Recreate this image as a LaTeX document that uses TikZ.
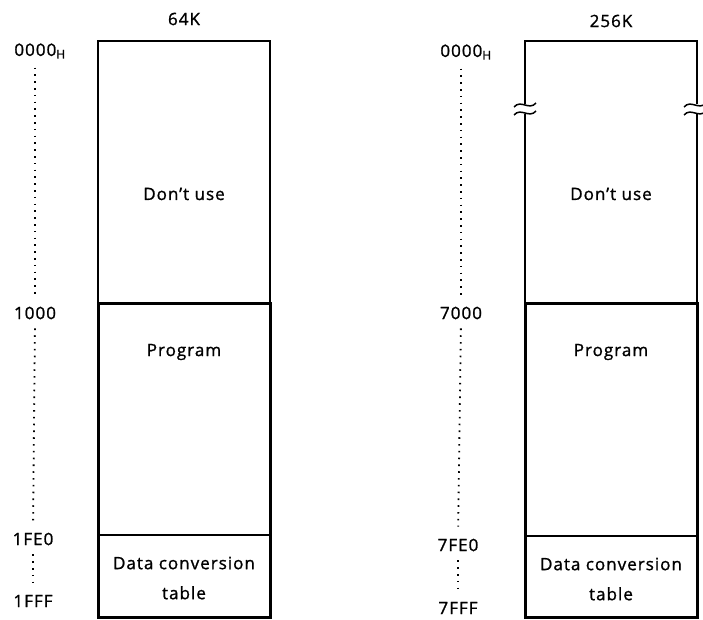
\documentclass[tikz,border=0pt]{standalone}
\usepackage{fontspec}
\setmainfont{Open Sans}[LetterSpace=6,FakeBold=1.2]
\usetikzlibrary{positioning}

\begin{document}
\begin{tikzpicture}[x=1pt,y=-1pt]
    \tikzstyle{addr} = [font=\fontsize{17}{19}\selectfont, inner sep=1pt]
    \tikzstyle{area} = [font=\fontsize{17}{30}\selectfont, align=center, inner sep=1pt]
    \tikzstyle{thinline} = [line width=1.5pt]
    \tikzstyle{thickline} = [line width=3pt]
    \tikzstyle{dots} = [line width=1.8pt, dash pattern=on 1.6pt off 5.2pt, shorten >=11pt, shorten <=8pt]
    \useasboundingbox (0,0) rectangle (703,619);

    % 64K map
    \node[addr] (t64) at (184,19) {64K};
    \node[addr] (a0) at (40,51) {0000\textsubscript{H}};
    \node[addr] (a1) at (35,313) {1000};
    \node[addr] (a2) at (33,539) {1FE0};
    \node[addr] (a3) at (33,601) {1FFF};

    \draw[dots] (a1.north |- a0.south) -- (a1.north);
    \draw[dots] (a1.south) -- (a2.north);
    \draw[dots] (a2.south) -- (a3.north);

    \draw[thinline] (98,303) -- (98,41) -- (270,41) -- (270,303);
    \draw[thickline] (98,303) rectangle (270,617);
    \draw[thinline] (98,535) -- (270,535);

    \node[area] (u64) at (184,194) {Don't use};
    \node[area] (p64) at (184,352) {Program};
    \node[area] (d64) at (184,578) {Data conversion\\table};

    % 256K map
    \node[addr] (t256) at (611,21) {256K};
    \node[addr] (b0) at (466,52) {0000\textsubscript{H}};
    \node[addr] (b1) at (461,313) {7000};
    \node[addr] (b2) at (458,545) {7FE0};
    \node[addr] (b3) at (458,608) {7FFF};

    \draw[dots] (b1.north |- b0.south) -- (b1.north);
    \draw[dots] (b1.south) -- (b2.north);
    \draw[dots] (b2.south) -- (b3.north);

    \draw[thinline] (525,104) -- (525,41) -- (697,41) -- (697,104);
    \draw[thinline] (525,114) -- (525,303);
    \draw[thinline] (697,114) -- (697,303);
    \draw[thickline] (525,303) rectangle (697,617);
    \draw[thinline] (525,536) -- (697,536);
    \foreach \x in {525,695}
      \foreach \y in {105,113}
        \draw[line width=1.5pt] (\x-11,\y+2) .. controls (\x-4,\y-6) and (\x+4,\y+6) .. (\x+11,\y-2);

    \node[area] (u256) at (611,194) {Don't use};
    \node[area] (p256) at (611,352) {Program};
    \node[area] (d256) at (611,579) {Data conversion\\table};

\end{tikzpicture}
\end{document}
